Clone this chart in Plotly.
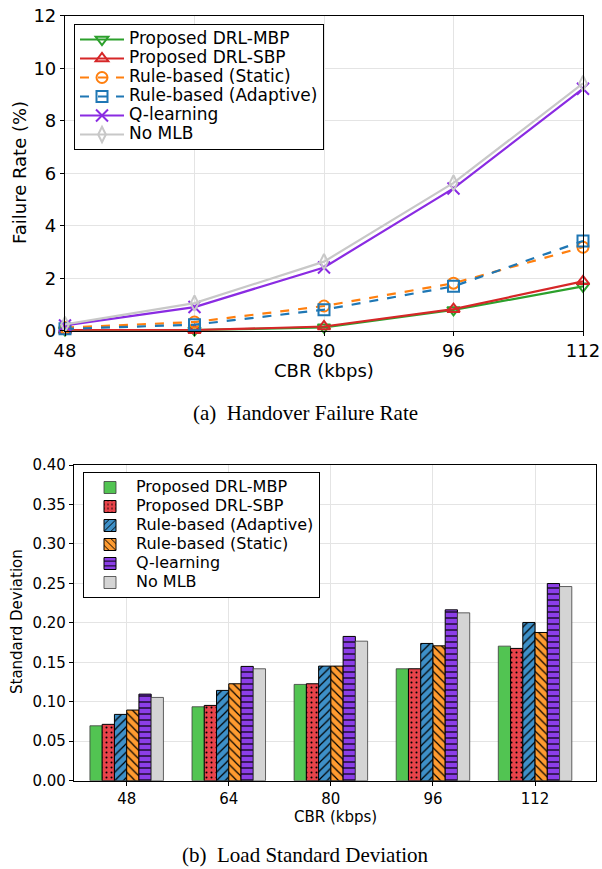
import plotly.graph_objects as go

# ---------------- data ----------------
cbr = [48, 64, 80, 96, 112]
cbr_labels = ["48", "64", "80", "96", "112"]

# (a) Handover failure rate (%)
fr_mbp = [0.02, 0.02, 0.13, 0.79, 1.69]
fr_sbp = [0.02, 0.02, 0.16, 0.82, 1.88]
fr_static = [0.12, 0.33, 0.94, 1.81, 3.18]
fr_adaptive = [0.07, 0.23, 0.80, 1.69, 3.42]
fr_qlearn = [0.20, 0.90, 2.41, 5.42, 9.22]
fr_nomlb = [0.24, 1.05, 2.63, 5.63, 9.42]

# (b) Load standard deviation
sd_mbp = [0.0696, 0.0937, 0.1220, 0.1418, 0.1705]
sd_sbp = [0.0714, 0.0954, 0.1228, 0.1418, 0.1676]
sd_adaptive = [0.0840, 0.1144, 0.1452, 0.1739, 0.2005]
sd_static = [0.0895, 0.1228, 0.1452, 0.1709, 0.1878]
sd_qlearn = [0.1097, 0.1448, 0.1828, 0.2165, 0.2498]
sd_nomlb = [0.1055, 0.1418, 0.1768, 0.2127, 0.2460]

W, H = 602, 869
FONT = "DejaVu Sans"

def px_x(p):
    return p / W

def px_y(p):
    return 1 - p / H

def big(text, size):
    return '<span style="font-size:%dpx">%s</span>' % (size, text)

fig = go.Figure()

# ---------------- top chart: lines ----------------
line_specs = [
    ("Proposed DRL-MBP", fr_mbp, "#2ca02c", "solid", "triangle-down-open"),
    ("Proposed DRL-SBP", fr_sbp, "#d62728", "solid", "triangle-up-open"),
    ("Rule-based (Static)", fr_static, "#ff7f0e", "dash", "circle-open"),
    ("Rule-based (Adaptive)", fr_adaptive, "#1f77b4", "dash", "square-open"),
    ("Q-learning", fr_qlearn, "#8a2be2", "solid", "x-thin-open"),
    ("No MLB", fr_nomlb, "#c8c8c8", "solid", "diamond-tall-open"),
]
for name, vals, col, dash, sym in line_specs:
    fig.add_trace(go.Scatter(
        x=cbr, y=vals, name=big(name, 17), mode="lines+markers",
        line=dict(color=col, width=2.2, dash=dash),
        marker=dict(symbol=sym, size=12 if sym.startswith("x") else 11,
                    color=col, line=dict(color=col, width=2)),
        cliponaxis=False, xaxis="x", yaxis="y", legend="legend",
    ))

# ---------------- bottom chart: bars ----------------
bar_specs = [
    ("Proposed DRL-MBP", sd_mbp, "#52c452", "", "rgba(60,60,60,0.8)"),
    ("Proposed DRL-SBP", sd_sbp, "#e8434a", ".", "black"),
    ("Rule-based (Adaptive)", sd_adaptive, "#3e90c8", "/", "black"),
    ("Rule-based (Static)", sd_static, "#ff9b30", "\\", "black"),
    ("Q-learning", sd_qlearn, "#8c3ee8", "-", "black"),
    ("No MLB", sd_nomlb, "#d4d4d4", "", "rgba(60,60,60,0.8)"),
]
for name, vals, col, pat, edge in bar_specs:
    marker = dict(color=col, line=dict(color=edge, width=1))
    if pat == ".":
        marker["pattern"] = dict(shape=pat, fgcolor="black", bgcolor=col,
                                 size=5, solidity=0.13, fillmode="replace")
    elif pat:
        marker["pattern"] = dict(shape=pat, fgcolor="black", bgcolor=col,
                                 size=6, solidity=0.2, fillmode="replace")
    fig.add_trace(go.Bar(
        x=cbr_labels, y=vals, name=big(name, 16), marker=marker,
        xaxis="x2", yaxis="y2", legend="legend2",
    ))

axis_common = dict(
    showline=True, mirror=True, linecolor="black", linewidth=1.2,
    ticks="outside", ticklen=4, tickcolor="black", automargin=False,
    ticklabeloverflow="allow",
    showgrid=True, gridcolor="#e4e4e4", gridwidth=1, zeroline=False,
)

fig.update_layout(
    width=W, height=H, autosize=False,
    margin=dict(l=0, r=0, t=0, b=0, pad=0, autoexpand=False),
    paper_bgcolor="white", plot_bgcolor="white",
    font=dict(family=FONT, color="black"),
    hovermode=False,
    barmode="group", bargap=0.28, bargroupgap=0,
    xaxis=dict(domain=[px_x(65), px_x(583)], range=[48, 112],
               tickvals=cbr, ticktext=cbr_labels, anchor="y",
               tickfont=dict(size=18, family=FONT), **axis_common),
    yaxis=dict(domain=[px_y(330.7), px_y(15.7)], range=[0, 12], dtick=2,
               anchor="x", tickfont=dict(size=18, family=FONT), **axis_common),
    xaxis2=dict(domain=[px_x(74), px_x(596)], range=[-0.516, 4.597],
                type="category", anchor="y2",
                tickfont=dict(size=15, family=FONT), **axis_common),
    yaxis2=dict(domain=[px_y(780.7), px_y(465)], range=[0, 0.40], dtick=0.05,
                tickformat=".2f", anchor="x2",
                tickfont=dict(size=15, family=FONT), **axis_common),
    legend=dict(x=px_x(74), y=px_y(24), xanchor="left", yanchor="top",
                bgcolor="white", bordercolor="black", borderwidth=1,
                font=dict(size=11, family=FONT), itemwidth=44,
                tracegroupgap=0),
    legend2=dict(x=px_x(83), y=px_y(472), xanchor="left", yanchor="top",
                 bgcolor="white", bordercolor="black", borderwidth=1,
                 font=dict(size=11, family=FONT), itemwidth=42,
                 tracegroupgap=0),
    showlegend=True,
)

annotations = [
    dict(text="Failure Rate (%)", x=px_x(19), y=px_y(173), textangle=-90,
         font=dict(size=18, family=FONT)),
    dict(text="CBR (kbps)", x=px_x(324), y=px_y(370),
         font=dict(size=18, family=FONT)),
    dict(text="(a)\u00a0\u00a0Handover Failure Rate", x=px_x(305), y=px_y(413),
         font=dict(size=21, family="Liberation Serif")),
    dict(text="Standard Deviation", x=px_x(17), y=px_y(622), textangle=-90,
         font=dict(size=15, family=FONT)),
    dict(text="CBR (kbps)", x=px_x(335), y=px_y(817),
         font=dict(size=15, family=FONT)),
    dict(text="(b)\u00a0\u00a0Load Standard Deviation", x=px_x(305), y=px_y(855),
         font=dict(size=21, family="Liberation Serif")),
]
for a in annotations:
    a.update(xref="paper", yref="paper", showarrow=False,
             xanchor="center", yanchor="middle")
fig.update_layout(annotations=annotations)

# remove the browser's default 8px body margin so the figure fills the window
fig.write_html(
    "out.html",
    config={"displayModeBar": False, "staticPlot": False},
    post_script="document.body.style.margin='0';"
                "document.documentElement.style.overflow='hidden';",
)
